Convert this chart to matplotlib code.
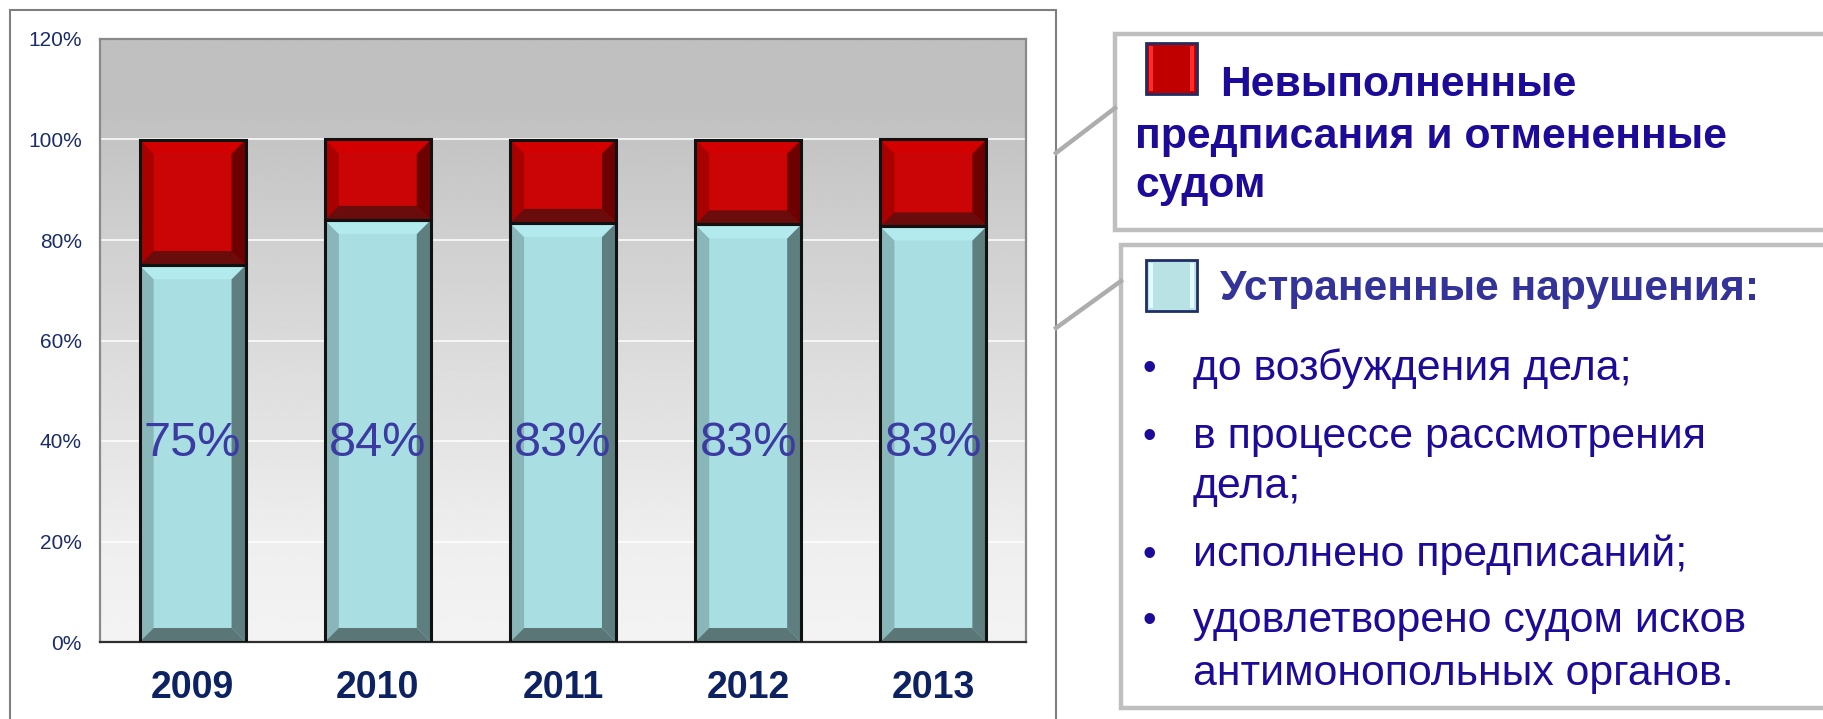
import numpy as np
import matplotlib
matplotlib.use("Agg")
import matplotlib.pyplot as plt
from matplotlib.patches import Polygon, Rectangle
from matplotlib.lines import Line2D

# ---------------- data ----------------
years = ["2009", "2010", "2011", "2012", "2013"]
eliminated = [75.0, 84.0, 83.4, 83.1, 82.7]           # Устраненные нарушения, %
eliminated_labels = ["75%", "84%", "83%", "83%", "83%"]
unfulfilled = [100 - v for v in eliminated]           # Невыполненные предписания и отмененные судом
yticks = [0, 20, 40, 60, 80, 100, 120]

legend_title_red = ["Невыполненные", "предписания и отмененные", "судом"]
legend_title_blue = "Устраненные нарушения:"
bullet_items = [
    ["до возбуждения дела;"],
    ["в процессе рассмотрения", "дела;"],
    ["исполнено предписаний;"],
    ["удовлетворено судом исков", "антимонопольных органов."],
]

W, H = 1823, 719
fig = plt.figure(figsize=(W / 100, H / 100), dpi=100)
fig.patch.set_facecolor("white")
plt.rcParams["font.family"] = ["Liberation Sans", "DejaVu Sans"]

def fx(px):
    return px / W

def fy(py):
    return 1 - py / H

# ---------------- axes ----------------
L, R, T, B = 100, 1026, 39, 642
ax = fig.add_axes([fx(L), fy(B), (R - L) / W, (B - T) / H])
ax.set_xlim(-0.5, len(years) - 0.5)
ax.set_ylim(0, 120)

# gradient background
stops_y = [0, 20, 40, 60, 80, 100, 106, 120]
stops_v = [0.953, 0.935, 0.895, 0.855, 0.815, 0.77, 0.753, 0.753]
yy = np.linspace(0, 120, 400)
vals = np.interp(yy, stops_y, stops_v)
grad = np.repeat(vals[:, None], 2, axis=1)
ax.imshow(grad, extent=[-0.5, len(years) - 0.5, 0, 120], origin="lower",
          aspect="auto", cmap="gray", vmin=0, vmax=1, zorder=0, interpolation="bilinear")

for t in yticks[1:-1]:
    ax.axhline(t, color="white", lw=1.3, alpha=0.85, zorder=1)

ax.set_yticks(yticks)
ax.set_yticklabels([f"{t}%" for t in yticks], fontsize=15, color="#1b2c6b")
ax.set_xticks(range(len(years)))
ax.set_xticklabels(years, fontsize=27, fontweight="bold", color="#0c2262")
ax.tick_params(axis="y", length=0, pad=13)
ax.tick_params(axis="x", length=0, pad=20)
for s in ["left", "top", "right"]:
    ax.spines[s].set_color("#8a8a8a")
    ax.spines[s].set_linewidth(1.6)
ax.spines["bottom"].set_color("#303030")
ax.spines["bottom"].set_linewidth(1.6)

bar_w = 0.572
dx = 0.0756
dy = 2.79

blue_cols = dict(face="#a9dfe3", top="#b2eaee", left="#88b6b9", right="#5f7e7f", bottom="#5b7677")
red_cols = dict(face="#cb0505", top="#d20000", left="#a90000", right="#6d0000", bottom="#6a0c0c")

def bevel_bar(x, y0, h, cols):
    ax.bar(x, h, bottom=y0, width=bar_w, color=cols["face"], edgecolor="none", zorder=2)
    x0, x1 = x - bar_w / 2, x + bar_w / 2
    y1 = y0 + h
    polys = {
        "left": [(x0, y0), (x0 + dx, y0 + dy), (x0 + dx, y1 - dy), (x0, y1)],
        "right": [(x1, y0), (x1 - dx, y0 + dy), (x1 - dx, y1 - dy), (x1, y1)],
        "top": [(x0, y1), (x1, y1), (x1 - dx, y1 - dy), (x0 + dx, y1 - dy)],
        "bottom": [(x0, y0), (x1, y0), (x1 - dx, y0 + dy), (x0 + dx, y0 + dy)],
    }
    for k, p in polys.items():
        ax.add_patch(Polygon(p, closed=True, facecolor=cols[k], edgecolor="none", zorder=3))
    ax.bar(x, h, bottom=y0, width=bar_w, fill=False, edgecolor="#111111", linewidth=2.2, zorder=4)

for i, (e, u) in enumerate(zip(eliminated, unfulfilled)):
    bevel_bar(i, 0, e, blue_cols)
    bevel_bar(i, e, u, red_cols)
    ax.text(i, 39.6, eliminated_labels[i], ha="center", va="center",
            fontsize=35, color="#3b3ba3", zorder=5)

# ---------------- outer frame & legend boxes ----------------
def fig_rect(x0, y0, x1, y1, ec, lw, fc="none", z=0):
    r = Rectangle((fx(x0), fy(y1)), fx(x1) - fx(x0), fy(y0) - fy(y1),
                  transform=fig.transFigure, facecolor=fc, edgecolor=ec, linewidth=lw,
                  zorder=z)
    fig.patches.append(r)

fig_rect(10, 10, 1056, 740, "#7f7f7f", 1.5)

# connectors
for (xa, ya, xb, yb) in [(1056, 153, 1115, 108), (1056, 328, 1121, 281)]:
    fig.lines.append(Line2D([fx(xa), fx(xb)], [fy(ya), fy(yb)], transform=fig.transFigure,
                            color="#adadad", linewidth=3.2))

fig_rect(1115, 34, 1850, 230, "#bfbfbf", 3.2, fc="white")
fig_rect(1121, 245, 1850, 708, "#bfbfbf", 3.2, fc="white")

def legend_square(x0, y0, x1, y1, face, hi):
    fig_rect(x0, y0, x1, y1, "#1f2f66", 2.0, fc=face, z=2)
    # bevel highlights
    fig_rect(x0 + 3, y0 + 3, x0 + 7, y1 - 3, "none", 0, fc=hi, z=3)
    fig_rect(x1 - 7, y0 + 3, x1 - 3, y1 - 3, "none", 0, fc=hi, z=3)

legend_square(1146, 43, 1197, 94, "#c00000", "#ff2a2a")
legend_square(1146, 260, 1197, 311, "#b8e2e4", "#e4fbfc")

title_col = "#1c0a99"
fs_t = 30.7
fig.text(fx(1220), fy(96), legend_title_red[0], fontsize=fs_t, fontweight="bold",
         color=title_col, va="baseline", ha="left")
fig.text(fx(1135), fy(148), legend_title_red[1], fontsize=fs_t, fontweight="bold",
         color=title_col, va="baseline", ha="left")
fig.text(fx(1135), fy(197), legend_title_red[2], fontsize=fs_t, fontweight="bold",
         color=title_col, va="baseline", ha="left")

fig.text(fx(1220), fy(300), legend_title_blue, fontsize=30.6, fontweight="bold",
         color="#333399", va="baseline", ha="left")

bullet_col = "#1c0a99"
line_y = [[380], [448, 498], [566], [632, 685]]
for item, ys in zip(bullet_items, line_y):
    fig.text(fx(1142), fy(ys[0]), "•", fontsize=28, color=bullet_col, va="baseline", ha="left")
    for txt, yb in zip(item, ys):
        fig.text(fx(1193), fy(yb), txt, fontsize=30.8, color=bullet_col, va="baseline", ha="left")

fig.savefig("out.png", dpi=100)
